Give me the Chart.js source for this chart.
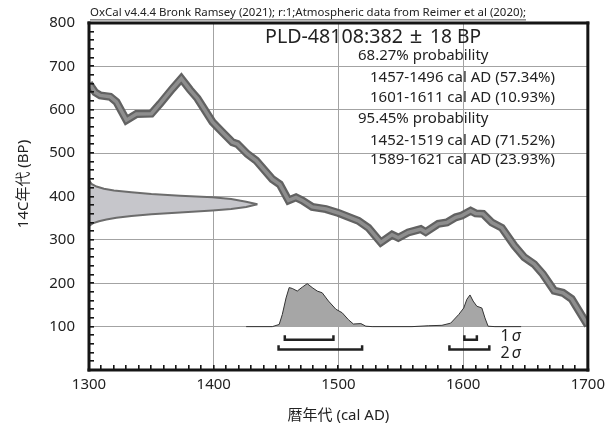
<!DOCTYPE html>
<html>
<head>
<meta charset="utf-8">
<script src="https://cdn.jsdelivr.net/npm/chart.js@4/dist/chart.umd.min.js"></script>
<style>
  html, body { margin: 0; padding: 0; background: #fff; }
  #wrap { width: 611px; height: 425px; }
</style>
</head>
<body>
<div id="wrap"><canvas id="chart" width="611" height="425"></canvas></div>
<script>
// calibration curve (cal AD, BP)
const curveYears = [1300, 1305, 1309, 1317, 1322, 1330, 1338, 1350, 1357, 1367, 1374, 1381, 1387, 1399, 1407, 1415, 1419, 1427, 1434, 1447, 1453, 1460, 1466, 1471, 1479, 1490, 1500, 1516, 1524, 1534, 1543, 1548, 1556, 1566, 1570, 1580, 1587, 1594, 1599, 1606, 1610, 1616, 1623, 1631, 1641, 1649, 1657, 1664, 1673, 1680, 1687, 1700];
const curveBP =    [661, 640, 633, 630, 618, 576, 590, 591, 614, 649, 672, 646, 626, 572, 548, 525, 521, 498, 483, 440, 428, 391, 398, 391, 376, 371, 362, 344, 328, 294, 312, 305, 317, 325, 318, 337, 340, 352, 356, 367, 361, 360, 340, 328, 287, 260, 244, 221, 183, 178, 164, 103];

// radiocarbon date 382±18 BP drawn on the y axis
const dateUpperYears = [1300, 1302, 1306, 1312, 1320, 1334, 1350, 1373, 1399, 1414, 1426, 1435];
const dateUpperBP =    [437, 429, 423, 418, 414, 410, 406, 402, 398, 394, 388, 382];
const dateLowerYears = [1300, 1303, 1308, 1314, 1322, 1334, 1350, 1373, 1399, 1414, 1426, 1435];
const dateLowerBP =    [332, 338, 343, 347, 351, 355, 359, 363, 368, 371, 376, 382];

// calibrated distribution (drawn above the 100 BP line)
const postYears = [1426, 1447, 1452.5, 1455, 1458, 1460.5, 1463, 1467, 1471, 1475, 1479, 1483, 1487, 1492, 1498, 1503, 1508, 1512, 1518, 1522, 1527, 1559, 1572, 1583, 1590, 1596.5, 1600.5, 1603, 1605.5, 1608, 1611, 1615, 1617.5, 1620, 1625.5, 1646.5];
const postBP =    [100, 100, 105, 128, 166, 190, 188, 182, 191, 199, 190, 182, 178, 159, 140, 132, 116, 106, 107, 101, 100, 100, 102, 103, 108, 128, 143, 163, 173, 159, 147, 143, 120, 101, 100, 100];

const sigma1Ranges = [[1457, 1496], [1601, 1611]];
const sigma2Ranges = [[1452, 1519], [1589, 1621]];

const xTicks = [1300, 1400, 1500, 1600, 1700];
const yTicks = [100, 200, 300, 400, 500, 600, 700, 800];

const headerText = 'OxCal v4.4.4 Bronk Ramsey (2021); r:1;Atmospheric data from Reimer et al (2020);';
const sampleName = 'PLD-48108:382';
const sampleErr = '18 BP';
const resultLines = [
    ['68.27% probability', 0],
    ['1457-1496 cal AD (57.34%)', 1],
    ['1601-1611 cal AD (10.93%)', 1],
    ['95.45% probability', 0],
    ['1452-1519 cal AD (71.52%)', 1],
    ['1589-1621 cal AD (23.93%)', 1]
];

const FONT = "'Noto Sans', 'Noto Sans CJK JP', sans-serif";
const pts = (xs, ys) => xs.map((x, i) => ({ x: x, y: ys[i] }));

function bracket(r, level, h) {
    return [
        { x: r[0], y: level + h }, { x: r[0], y: level },
        { x: r[1], y: level }, { x: r[1], y: level + h }
    ];
}

const datasets = [];
sigma1Ranges.forEach(r => datasets.push({ data: bracket(r, 70, 10), borderColor: '#222', borderWidth: 2.5, order: 0 }));
sigma2Ranges.forEach(r => datasets.push({ data: bracket(r, 47, 10), borderColor: '#222', borderWidth: 2.5, order: 0 }));
datasets.push({
    data: pts(postYears, postBP), borderColor: '#333', borderWidth: 1,
    backgroundColor: '#a6a6a6', fill: { value: 100 }, order: 1
});
datasets.push({ data: pts(curveYears, curveBP), borderColor: '#8e8e8e', borderWidth: 3.5, order: 2 });
datasets.push({ data: pts(curveYears, curveBP), borderColor: '#626262', borderWidth: 8, order: 3 });
const upperIdx = datasets.length;
datasets.push({ data: pts(dateUpperYears, dateUpperBP), borderColor: '#6c6c6c', borderWidth: 2, order: 4 });
datasets.push({
    data: pts(dateLowerYears, dateLowerBP), borderColor: '#6c6c6c', borderWidth: 2,
    backgroundColor: '#c6c6cb', fill: upperIdx, order: 5
});
datasets.forEach(d => {
    d.showLine = true;
    d.pointRadius = 0;
    d.tension = 0;
    if (d.fill === undefined) d.fill = false;
});

const decor = {
    id: 'decor',
    afterDraw(chart) {
        const ctx = chart.ctx;
        const a = chart.chartArea;
        const xs = chart.scales.x, ys = chart.scales.y;
        ctx.save();
        ctx.fillStyle = '#151515';
        // frame
        const t = 3;
        ctx.fillRect(a.left - 1.5, a.top - 1.5, a.right - a.left + t, t);
        ctx.fillRect(a.left - 1.5, a.bottom - 1.5, a.right - a.left + t, t);
        ctx.fillRect(a.left - 1.5, a.top - 1.5, t, a.bottom - a.top + t);
        ctx.fillRect(a.right - 1.5, a.top - 1.5, t, a.bottom - a.top + t);
        // minor ticks, inside the frame
        for (let v = 20; v < 800; v += 20) {
            const py = Math.round(ys.getPixelForValue(v)) - 1;
            ctx.fillRect(a.left, py, 5, 1.6);
        }
        for (let v = 1310; v < 1700; v += 10) {
            const px = Math.round(xs.getPixelForValue(v)) - 1;
            ctx.fillRect(px, a.bottom - 5, 1.6, 5);
        }

        ctx.fillStyle = '#222';
        ctx.textBaseline = 'middle';
        ctx.textAlign = 'left';
        // header
        ctx.font = '11.5px ' + FONT;
        ctx.fillText(headerText, a.left + 1, 13, 436);
        ctx.fillRect(a.left + 1, 19.5, 436, 0.8);
        // sample name and ranges
        ctx.font = '20px ' + FONT;
        ctx.fillText(sampleName, 265, 37, 138);
        ctx.fillText(sampleErr, 430, 37, 51);
        ctx.font = '22px ' + FONT;
        ctx.textAlign = 'center';
        ctx.fillText('\u00b1', 416, 37);
        ctx.textAlign = 'left';
        ctx.font = '15px ' + FONT;
        const lineY = [56, 78, 97.5, 119, 140.5, 159.5];
        resultLines.forEach((l, i) => {
            if (l[1]) ctx.fillText(l[0], 370, lineY[i], 185);
            else ctx.fillText(l[0], 358, lineY[i], 136);
        });
        // sigma labels
        ['1', '2'].forEach((n, i) => {
            const px = xs.getPixelForValue(1630);
            const py = ys.getPixelForValue(i === 0 ? 77 : 39);
            ctx.font = '16px ' + FONT;
            ctx.fillText(n, px, py);
            const w = ctx.measureText(n).width;
            ctx.font = 'italic 16px ' + FONT;
            ctx.fillText('\u03c3', px + w + 2, py);
        });
        // y axis title
        ctx.translate(24, 184);
        ctx.rotate(-Math.PI / 2);
        ctx.font = '15px ' + FONT;
        ctx.textAlign = 'center';
        ctx.fillText('14C\u5e74\u4ee3 (BP)', 0, 0);
        ctx.restore();
    }
};

new Chart(document.getElementById('chart'), {
    type: 'scatter',
    data: { datasets: datasets },
    options: {
        responsive: false,
        animation: false,
        layout: { padding: { top: 22, right: 23, left: 0, bottom: 0 } },
        plugins: { legend: { display: false }, tooltip: { enabled: false } },
        scales: {
            x: {
                type: 'linear', min: 1300, max: 1700,
                afterFit: s => { s.height = 55; },
                afterBuildTicks: s => { s.ticks = xTicks.map(v => ({ value: v })); },
                border: { display: false },
                grid: {
                    drawTicks: false,
                    color: c => (c.tick && (c.tick.value === 1300 || c.tick.value === 1700)) ? 'rgba(0,0,0,0)' : '#a3a3a3'
                },
                ticks: {
                    padding: 6, color: '#222', font: { family: FONT, size: 15 }, maxRotation: 0,
                    callback: v => String(v)
                },
                title: {
                    display: true, text: '\u66a6\u5e74\u4ee3 (cal AD)', color: '#222',
                    font: { family: FONT, size: 15 }, padding: { top: 4, bottom: 0 }
                }
            },
            y: {
                type: 'linear', min: 0, max: 800,
                afterFit: s => { s.width = 89; },
                afterBuildTicks: s => { s.ticks = yTicks.map(v => ({ value: v })); },
                border: { display: false },
                grid: {
                    drawTicks: false,
                    color: c => (c.tick && c.tick.value === 800) ? 'rgba(0,0,0,0)' : '#a3a3a3'
                },
                ticks: { padding: 14, color: '#222', font: { family: FONT, size: 15 }, callback: v => String(v) }
            }
        }
    },
    plugins: [decor]
});
</script>
</body>
</html>
